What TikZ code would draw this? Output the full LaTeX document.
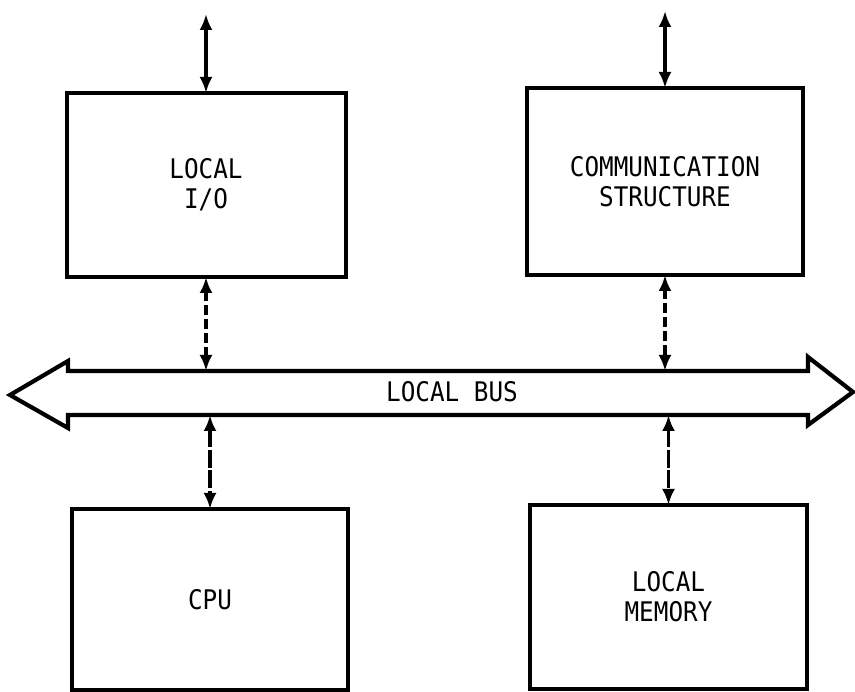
\documentclass[tikz,border=0pt]{standalone}
\usepackage{fontspec}
\newfontfamily\diafont[FakeStretch=0.9]{DejaVu Sans Mono}
\usetikzlibrary{arrows.meta}
\begin{document}
\begin{tikzpicture}[x=1pt,y=-1pt,
  lbl/.style={font=\diafont\fontsize{27}{30}\selectfont},
  unit/.style={draw, line width=4pt, rectangle, inner sep=0pt, outer sep=0pt,
    align=center, lbl},
  tip/.tip={Latex[length=16pt,width=13pt]},
  link/.style={line width=3.4pt, tip-tip},
  dashlink/.style={link, dash pattern=on 10pt off 4pt},
  dashlinkB/.style={link, dash pattern=on 18pt off 2.5pt},
  busline/.style={line width=4.2pt, line join=miter}]
\useasboundingbox (0,0) rectangle (855,692);
\fill[white] (0,0) rectangle (855,692);

% boxes
\node[unit, minimum width=279pt, minimum height=184pt] (lio) at (206,185) {LOCAL\\I/O};
\node[unit, minimum width=276pt, minimum height=187pt] (comm) at (665,181.5) {COMMUNICATION\\STRUCTURE};
\node[unit, minimum width=276pt, minimum height=181pt] (cpu) at (210,599.5) {CPU};
\node[unit, minimum width=277pt, minimum height=184pt] (mem) at (668.5,597) {LOCAL\\MEMORY};

% local bus
\draw[busline] (10,395) -- (68,361) -- (68,371) -- (808,371) -- (808,357)
  -- (853,392) -- (808,425) -- (808,415) -- (68,415) -- (68,428) -- cycle;
\node[lbl] (bus) at (452,392) {LOCAL BUS};
\coordinate (bustop) at (0,371);
\coordinate (busbot) at (0,415);

% free ends at the top
\coordinate (lioext) at (206,14);
\coordinate (commext) at (665,11);

% connectors
\draw[link] (lioext) -- (lio.north);
\draw[link] (commext) -- (comm.north);
\draw[dashlink] (lio.south) -- (lio.south |- bustop);
\draw[dashlink] (comm.south) -- (comm.south |- bustop);
\draw[dashlinkB] (cpu.north |- busbot) -- (cpu.north);
\draw[dashlinkB] (mem.north |- busbot) -- (mem.north);
\end{tikzpicture}
\end{document}
